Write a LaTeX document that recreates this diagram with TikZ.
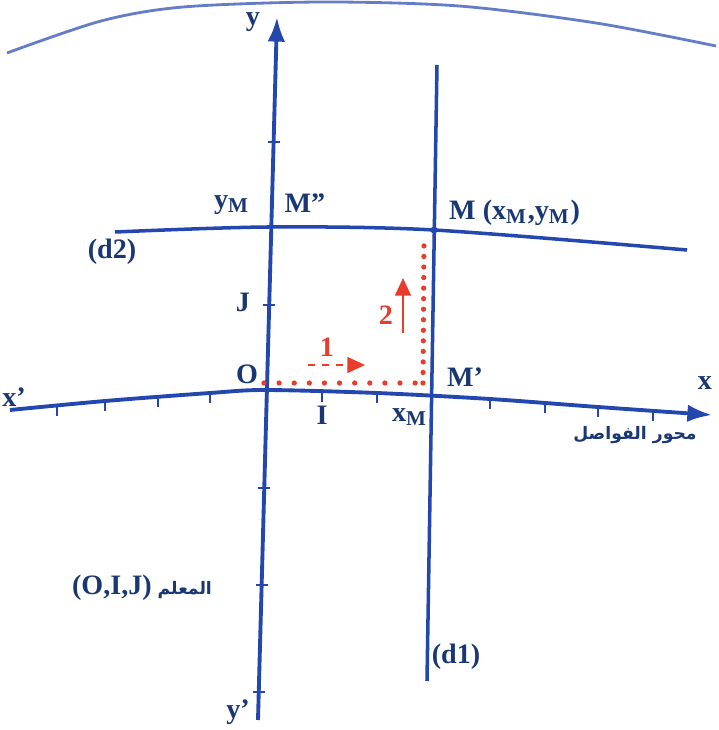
\documentclass[tikz,border=0pt]{standalone}
\usepackage{fontspec}
\setmainfont{Liberation Serif}
\newfontfamily\arabicfont[Script=Arabic]{DejaVu Sans}
\TeXXeTstate=1
\usetikzlibrary{arrows.meta}

\definecolor{axisblue}{RGB}{35,70,175}
\definecolor{labelblue}{RGB}{25,55,115}
\definecolor{pathred}{RGB}{232,60,45}

\tikzset{
  lbl/.style={text=labelblue, font=\fontsize{8}{9}\selectfont\bfseries, inner sep=1pt},
  redlbl/.style={text=pathred, font=\fontsize{8}{9}\selectfont\bfseries, inner sep=1pt},
  arlbl/.style={text=labelblue, font=\arabicfont\fontsize{4.9}{6}\selectfont\bfseries, inner sep=1pt},
  axis/.style={axisblue, line width=1.1pt},
  tickmark/.style={axisblue, line width=0.8pt},
}
\newcommand{\subM}{\textsubscript{M}}

\begin{document}
\begin{tikzpicture}
    \useasboundingbox (-2.65,-3.40) rectangle (4.53,3.90);

    % edge of the page
    \draw[axisblue!70, line width=0.8pt] plot[smooth] coordinates
        {(-2.58,3.37) (-1.64,3.69) (-0.82,3.83) (0.56,3.88) (1.94,3.84) (3.31,3.67) (4.51,3.44)};

    % abscissa axis x'x
    \draw[axis, -{Latex[length=7pt,width=5pt]}] plot[smooth] coordinates
        {(-2.55,-0.20) (-1.6,-0.11) (-0.55,-0.03) (0,0) (1.12,-0.03) (2.25,-0.09) (3.33,-0.17) (4.47,-0.25)};
    \foreach \x/\y in {-2.08/-0.155, -1.60/-0.11, -1.07/-0.07, -0.55/-0.03, 0.57/-0.015,
                       1.12/-0.03, 2.25/-0.09, 2.80/-0.13, 3.33/-0.17, 3.88/-0.21}
        \draw[tickmark] (\x,\y+0.02) -- (\x,\y-0.1);

    % ordinate axis y'y
    \coordinate (ybot) at (-0.07,-3.30);
    \coordinate (ytop) at (0.12,3.73);
    \draw[axis, -{Latex[length=7pt,width=5pt]}] (ybot) -- (ytop);
    \foreach \x/\y in {0.042/0.85, 0.086/2.48, -0.007/-0.98, -0.034/-1.95, -0.062/-3.02}
        \draw[tickmark] (\x-0.06,\y) -- (\x+0.06,\y);

    % lines d1 and d2
    \coordinate (d1bot) at (1.62,-2.91);
    \coordinate (d1top) at (1.72,3.25);
    \draw[axis, line width=1pt] (d1bot) -- (d1top);
    \draw[axis, line width=1pt] plot[smooth] coordinates
        {(-1.50,1.58) (0.03,1.63) (1.69,1.60) (4.22,1.40)};

    % points
    \coordinate (O) at (0,0);
    \coordinate (M) at (1.69,1.60);
    \coordinate (Mp) at (1.58,0.07);
    \fill[axisblue] (M) circle (0.035);

    % red path from O to M
    \draw[pathred, line width=1.5pt, line cap=round, dash pattern=on 0pt off 4.3pt]
        (-0.01,0.07) -- (Mp);
    \draw[pathred, line width=1.5pt, line cap=round, dash pattern=on 0pt off 3pt]
        (Mp) -- (1.59,1.50);
    \coordinate (a1s) at (0.43,0.25);
    \coordinate (a1e) at (1.00,0.25);
    \draw[pathred, line width=0.5pt, dash pattern=on 2pt off 2pt, -{Triangle[length=5pt,width=4.5pt]}] (a1s) -- (a1e);
    \node[redlbl] (one) at (0.62,0.43) {1};
    \coordinate (a2s) at (1.38,0.57);
    \coordinate (a2e) at (1.38,1.12);
    \draw[pathred, line width=0.6pt, -{Triangle[length=5pt,width=4.5pt]}] (a2s) -- (a2e);
    \node[redlbl] (two) at (1.21,0.75) {2};

    % labels
    \node[lbl] (ylab) at (-0.12,3.68) {y};
    \node[lbl] (yplab) at (-0.27,-3.22) {y'};
    \node[lbl] (xlab) at (4.40,0.07) {x};
    \node[lbl] (xplab) at (-2.51,-0.07) {x'};
    \node[lbl] (Olab) at (-0.18,0.16) {O};
    \node[lbl] (Ilab) at (0.57,-0.25) {I};
    \node[lbl] (Jlab) at (-0.22,0.88) {J};
    \node[lbl] (xMlab) at (1.45,-0.27) {x\subM};
    \node[lbl] (yMlab) at (-0.33,1.85) {y\subM};
    \node[lbl] (Mpplab) at (0.40,1.87) {M''};
    \node[lbl] (Mplab) at (2.00,0.13) {M'};
    \node[lbl, anchor=west] (Mlab) at (1.80,1.77) {M (x\subM,y\subM)};
    \node[lbl] (d2lab) at (-1.53,1.38) {(d2)};
    \node[lbl] (d1lab) at (1.91,-2.67) {(d1)};
    \node[arlbl] (abscissa) at (3.70,-0.45) {\beginR محور الفواصل\endR};
    \node[arlbl] (frame) at (-1.23,-1.98)
        {\beginR المعلم \beginL{\rmfamily\fontsize{8}{9}\selectfont\bfseries (O,I,J)}\endL\endR};
\end{tikzpicture}
\end{document}
